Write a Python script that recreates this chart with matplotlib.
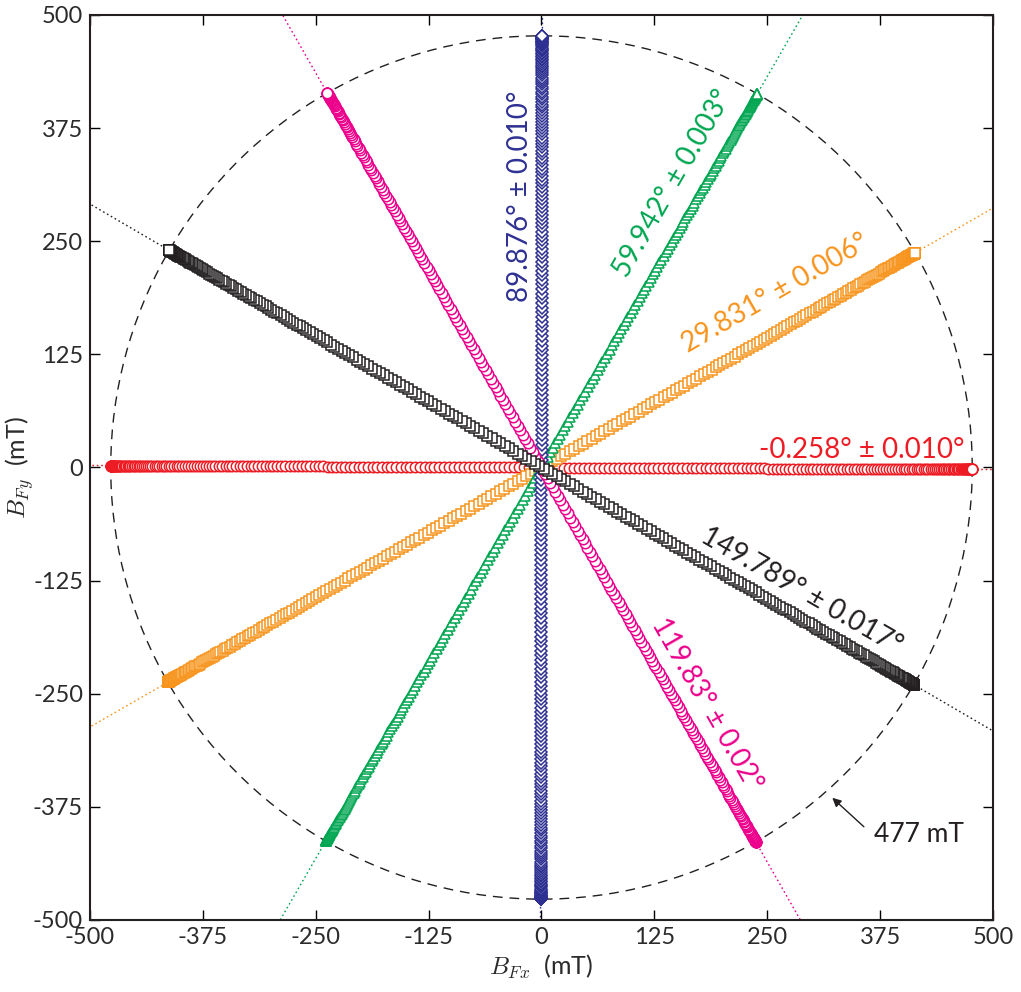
import numpy as np
import matplotlib
matplotlib.use("Agg")
import matplotlib.pyplot as plt

plt.rcParams['font.family'] = ['Lato', 'DejaVu Sans']
plt.rcParams['mathtext.fontset'] = 'cm'

# Fitted field directions (deg) and their uncertainties
angles = [-0.258, 29.831, 59.942, 89.876, 119.83, 149.789]
angle_labels = ["-0.258° ± 0.010°", "29.831° ± 0.006°", "59.942° ± 0.003°",
                "89.876° ± 0.010°", "119.83° ± 0.02°", "149.789° ± 0.017°"]
colors = ["#ed1c24", "#f7941d", "#00a651", "#2e3192", "#ec008c", "#231f20"]
markers = ["o", "s", "^", "D", "o", "s"]
marker_sizes = [7.5, 7, 7.5, 6.5, 7.5, 7]

# Field amplitude (mT) and the phase sweep of the driven field
amplitude = 477.0
phase = np.linspace(-np.pi / 2, np.pi / 2, 270)
sweep = amplitude * np.sin(phase)

ticks = [-500, -375, -250, -125, 0, 125, 250, 375, 500]
tick_labels = ["-500", "-375", "-250", "-125", "0", "125", "250", "375", "500"]

# Label placement (data coords) and text rotation
label_pos = [(355, 19), (259, 192), (145, 314), (-24, 300), (183, -262), (288, -136)]
label_rot = [0, 30, 60, 90, -60, -30]

fig = plt.figure(figsize=(10.21, 9.92), dpi=100)
ax = fig.add_axes([0.0881, 0.0726, 0.8845, 0.9123])
ax.set_xlim(-500, 500)
ax.set_ylim(-500, 500)

# Reference circle at the field amplitude
t = np.linspace(0, 2 * np.pi, 400)
ax.plot(amplitude * np.cos(t), amplitude * np.sin(t), color="#231f20",
        lw=1.0, ls=(0, (7, 5)), zorder=2)

ext = np.array([-800, 800])
for ang, col, mk, ms in zip(angles, colors, markers, marker_sizes):
    a = np.deg2rad(ang)
    ca, sa = np.cos(a), np.sin(a)
    ax.plot(ext * ca, ext * sa, color=col, lw=1.0, ls=(0, (1.2, 2)), zorder=1)
    ax.plot(sweep * ca, sweep * sa, ls="none", marker=mk, ms=ms,
            mfc="white", mec=col, mew=1.1, zorder=3)

for (x, y), rot, txt, col in zip(label_pos, label_rot, angle_labels, colors):
    ax.text(x, y, txt, color=col, fontsize=20, rotation=rot,
            rotation_mode="anchor", ha="center", va="center", zorder=5)

# Radius callout
ax.annotate("", xy=(322, -365), xytext=(357, -397),
            arrowprops=dict(arrowstyle="-|>", color="#231f20", lw=1.0,
                            shrinkA=0, shrinkB=0, mutation_scale=13))
ax.text(418, -405, "477 mT", fontsize=19, color="#231f20",
        ha="center", va="center")

ax.set_xticks(ticks)
ax.set_xticklabels(tick_labels)
ax.set_yticks(ticks)
ax.set_yticklabels(tick_labels)
ax.tick_params(direction="in", length=7, width=1.0, top=True, right=True,
               labelsize=17, labelcolor="#2b2b2b", pad=5)
for sp in ax.spines.values():
    sp.set_linewidth(1.5)
    sp.set_color("#231f20")

ax.set_xlabel(r"$B_{Fx}$  (mT)", fontsize=18, color="#2b2b2b")
ax.set_ylabel(r"$B_{Fy}$  (mT)", fontsize=18, color="#2b2b2b")
ax.xaxis.set_label_coords(0.5, -0.036)
ax.yaxis.set_label_coords(-0.060, 0.5)

fig.savefig("out.png", dpi=100)
